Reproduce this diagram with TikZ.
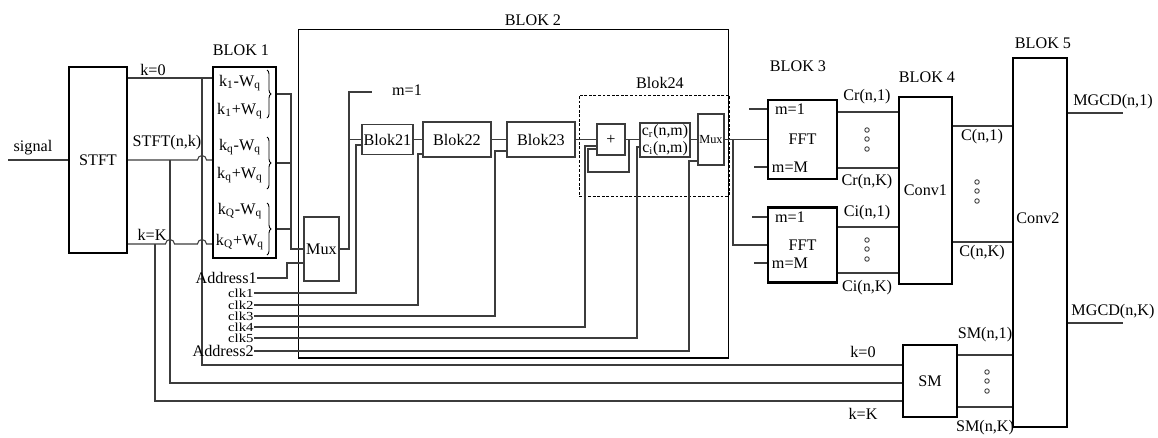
\documentclass[tikz,border=0pt]{standalone}
\usepackage{fontspec}
\setmainfont{Liberation Serif}
\usetikzlibrary{calc,decorations.pathreplacing}
\definecolor{cWire}{HTML}{3C3C3C}
\definecolor{cBox}{HTML}{000000}
\tikzset{
  lbl/.style={font=\fontsize{9.2}{10}\selectfont, inner sep=0pt},
  clklbl/.style={font=\fontsize{7}{7}\selectfont, inner sep=0pt, xscale=1.2},
  bigblk/.style={draw=cBox, line width=1.2pt, inner sep=0pt, lbl},
  subblk/.style={draw=cWire, line width=0.7pt, inner sep=0pt, lbl},
  blkframe/.style={draw=cBox, line width=0.6pt, inner sep=0pt},
  dashframe/.style={draw=cBox, line width=0.5pt, dash pattern=on 1.6pt off 1pt, inner sep=0pt},
  wire/.style={draw=cWire, line width=0.6pt},
  brc/.style={draw=cBox, line width=0.5pt, decorate, decoration={brace, amplitude=0.08cm}},
  dotc/.style={draw=cWire, line width=0.5pt},
}

\begin{document}
\begin{tikzpicture}[x=0.02cm, y=-0.02cm]
    \useasboundingbox (0,0) rectangle (1158,437);
    % --- frames ---
    \node[blkframe, minimum width=86.2mm, minimum height=65.8mm] (b2) at (513.5,193.5) {};
    \node[lbl] (b2lbl) at (533,20) {BLOK 2};
    \node[dashframe, minimum width=30mm, minimum height=20.2mm] (b24) at (654,145.5) {};
    \node[lbl] (b24lbl) at (660,83) {Blok24};
    % --- blocks ---
    \node[bigblk, minimum width=11.6mm, minimum height=37.2mm] (stft) at (98,160) {STFT};
    \node[bigblk, minimum width=12.6mm, minimum height=38.2mm] (b1) at (244.5,162.5) {};
    \node[lbl] (b1lbl) at (241,50) {BLOK 1};
    \node[lbl] (e1) at (240,83)  {k\textsubscript{1}-W\textsubscript{q}};
    \node[lbl] (e2) at (240,111) {k\textsubscript{1}+W\textsubscript{q}};
    \node[lbl] (e3) at (240,147) {k\textsubscript{q}-W\textsubscript{q}};
    \node[lbl] (e4) at (240,175) {k\textsubscript{q}+W\textsubscript{q}};
    \node[lbl] (e5) at (240,211) {k\textsubscript{Q}-W\textsubscript{q}};
    \node[lbl] (e6) at (240,242) {k\textsubscript{Q}+W\textsubscript{q}};
    \draw[brc] (267,70) -- (267,118);
    \draw[brc] (267,137) -- (267,189);
    \draw[brc] (267,203) -- (267,255);
    \node[subblk, minimum width=7mm, minimum height=12.8mm] (mux1) at (321.5,249) {Mux};
    \node[subblk, minimum width=10.2mm, minimum height=6mm] (b21) at (387.5,139.5) {Blok21};
    \node[subblk, minimum width=13.6mm, minimum height=7mm] (b22) at (457,139.5) {Blok22};
    \node[subblk, minimum width=13.6mm, minimum height=7mm] (b23) at (541,139.5) {Blok23};
    \node[subblk, minimum width=5.6mm, minimum height=6.2mm] (plus) at (611,139.5) {+};
    \node[subblk, minimum width=10mm, minimum height=6.8mm, align=center,
      font=\fontsize{9}{9.6}\selectfont] (cbox) at (665,140)
      {c\textsubscript{r}(n,m)\\c\textsubscript{i}(n,m)};
    \node[subblk, minimum width=5.2mm, minimum height=10.2mm,
      font=\fontsize{7}{7}\selectfont] (mux2) at (711,139.5) {Mux};
    \node[lbl] (b3lbl) at (798,66) {BLOK 3};
    \node[bigblk, minimum width=13.8mm, minimum height=15.8mm] (fft1) at (802.5,139.5) {FFT};
    \node[bigblk, minimum width=13.8mm, minimum height=15mm] (fft2) at (802.5,245) {FFT};
    \node[lbl] (f1a) at (790,109) {m=1};
    \node[lbl] (f1b) at (790,167) {m=M};
    \node[lbl] (f2a) at (790,217) {m=1};
    \node[lbl] (f2b) at (790,263) {m=M};
    \node[lbl] (b4lbl) at (927,77) {BLOK 4};
    \node[bigblk, minimum width=10.6mm, minimum height=37.4mm] (conv1) at (925.5,190.5) {Conv1};
    \node[bigblk, minimum width=10.8mm, minimum height=14.4mm] (sm) at (930,381) {SM};
    \node[lbl] (b5lbl) at (1043,43) {BLOK 5};
    \node[bigblk, minimum width=10.8mm, minimum height=73.8mm] (conv2) at (1040,242.5) {};
    \node[lbl] (conv2lbl) at (1038,218) {Conv2};
    % --- input side ---
    \coordinate (sigin) at (8,160);
    \draw[wire] (sigin) -- (stft.west);
    \node[lbl] (siglbl) at (33,148) {signal};
    \draw[wire] (stft.east |- 0,78) -- (b1.west |- 0,78);
    \draw[wire] (stft.east) -- (197.5,160) arc[start angle=180, end angle=0, radius=0.09cm]
      -- (b1.west |- 0,160);
    \draw[wire] (stft.east |- 0,244) -- (165.5,244) arc[start angle=180, end angle=0, radius=0.09cm]
      -- (197.5,244) arc[start angle=180, end angle=0, radius=0.09cm] -- (b1.west |- 0,244);
    \node[lbl] (k0lbl) at (153,70) {k=0};
    \node[lbl] (stftlbl) at (167,143) {STFT(n,k)};
    \node[lbl] (kKlbl) at (152,235) {k=K};
    % taps down to SM
    \coordinate (v0) at (202,78);
    \coordinate (v1) at (170,160);
    \coordinate (vK) at (155,244);
    \draw[wire] (v0) |- (sm.west |- 0,365);
    \draw[wire] (v1) |- (sm.west |- 0,383);
    \draw[wire] (vK) |- (sm.west |- 0,401);
    \node[lbl] (k0b) at (863,352) {k=0};
    \node[lbl] (kKb) at (863,414) {k=K};
    % --- BLOK 1 to Mux ---
    \coordinate (bus) at (291,249);
    \draw[wire] (b1.east |- 0,94) -| (bus) -- (mux1.west);
    \draw[wire] (b1.east |- 0,163) -- (bus |- 0,163);
    \draw[wire] (b1.east |- 0,229) -- (bus |- 0,229);
    \node[lbl, anchor=east] (ad1) at (257,278) {Address1};
    \coordinate (a1) at (287,263);
    \draw[wire] (ad1.east) -| (a1) -- (a1 -| mux1.west);
    % --- Mux to chain ---
    \coordinate (mj) at (349,92);
    \coordinate (m1) at (372,92);
    \draw[wire] (mux1.east) -| (mj) -- (m1);
    \draw[wire] (mj |- b21.west) -- (b21.west);
    \node[lbl] (m1lbl) at (407,90) {m=1};
    \draw[wire] (b21.east) -- (b22.west);
    \draw[wire] (b22.east) -- (b23.west);
    \draw[wire] (b23.east) -- (plus.west);
    \draw[wire] (plus.east) -- (cbox.west |- plus.east);
    \draw[wire] (cbox.east |- mux2.west) -- (mux2.west);
    \coordinate (fb1) at (629,172);
    \coordinate (fb2) at (588,149);
    \draw[wire] (plus.east -| fb1) -- (fb1) -| (fb2) -- (fb2 -| plus.west);
    % --- clocks ---
    \node[clklbl, anchor=east] (clk1) at (254,293) {clk1};
    \node[clklbl, anchor=east] (clk2) at (254,305) {clk2};
    \node[clklbl, anchor=east] (clk3) at (254,316) {clk3};
    \node[clklbl, anchor=east] (clk4) at (254,327) {clk4};
    \node[clklbl, anchor=east] (clk5) at (254,338) {clk5};
    \node[lbl, anchor=east] (ad2) at (254,351) {Address2};
    \coordinate (c1) at (356,145);
    \coordinate (c2) at (418,154);
    \coordinate (c3) at (495,151);
    \coordinate (c4) at (585,146);
    \coordinate (c5) at (637,147);
    \coordinate (c6) at (689,161);
    \draw[wire] (clk1.east) -| (c1) -- (c1 -| b21.west);
    \draw[wire] (clk2.east) -| (c2) -- (c2 -| b22.west);
    \draw[wire] (clk3.east) -| (c3) -- (c3 -| b23.west);
    \draw[wire] (clk4.east) -| (c4) -- (c4 -| plus.west);
    \draw[wire] (clk5.east) -| (c5) -- (c5 -| cbox.west);
    \draw[wire] (ad2.east) -| (c6) -- (c6 -| mux2.west);
    % --- FFT stage ---
    \coordinate (sp) at (733,0);
    \draw[wire] (mux2.east) -- (fft1.west);
    \draw[wire] (mux2.east -| sp) |- (fft2.west);
    \draw[wire] (fft1.west |- 0,109) -- ++(-18,0);
    \draw[wire] (fft1.west |- 0,167) -- ++(-13,0);
    \draw[wire] (fft2.west |- 0,217) -- ++(-15,0);
    \draw[wire] (fft2.west |- 0,263) -- ++(-13,0);
    \foreach \y in {112,168,227,273}
      \draw[wire] (fft1.east |- 0,\y) -- (conv1.west |- 0,\y);
    \node[lbl] (cr1) at (867,97)  {Cr(n,1)};
    \node[lbl] (crK) at (867,182) {Cr(n,K)};
    \node[lbl] (ci1) at (867,213) {Ci(n,1)};
    \node[lbl] (ciK) at (867,288) {Ci(n,K)};
    \foreach \y in {130,139,149,240,249,259}
      \draw[dotc] (867,\y) circle[radius=0.045cm];
    % --- Conv1 to Conv2 ---
    \draw[wire] (conv1.east |- 0,126) -- (conv2.west |- 0,126);
    \draw[wire] (conv1.east |- 0,242) -- (conv2.west |- 0,242);
    \node[lbl] (c1lbl) at (982,137) {C(n,1)};
    \node[lbl] (cKlbl) at (982,253) {C(n,K)};
    \foreach \y in {182,191,201}
      \draw[dotc] (977,\y) circle[radius=0.045cm];
    % --- SM to Conv2 ---
    \draw[wire] (sm.east |- 0,355) -- (conv2.west |- 0,355);
    \draw[wire] (sm.east |- 0,407) -- (conv2.west |- 0,407);
    \node[lbl] (sm1lbl) at (985,335) {SM(n,1)};
    \node[lbl] (smKlbl) at (985,428) {SM(n,K)};
    \foreach \y in {372,381,391}
      \draw[dotc] (987,\y) circle[radius=0.045cm];
    % --- outputs ---
    \coordinate (o1) at (1123,113);
    \coordinate (oK) at (1123,323);
    \draw[wire] (conv2.east |- o1) -- (o1);
    \draw[wire] (conv2.east |- oK) -- (oK);
    \node[lbl] (mg1) at (1113,102) {MGCD(n,1)};
    \node[lbl] (mgK) at (1113,312) {MGCD(n,K)};
\end{tikzpicture}
\end{document}
